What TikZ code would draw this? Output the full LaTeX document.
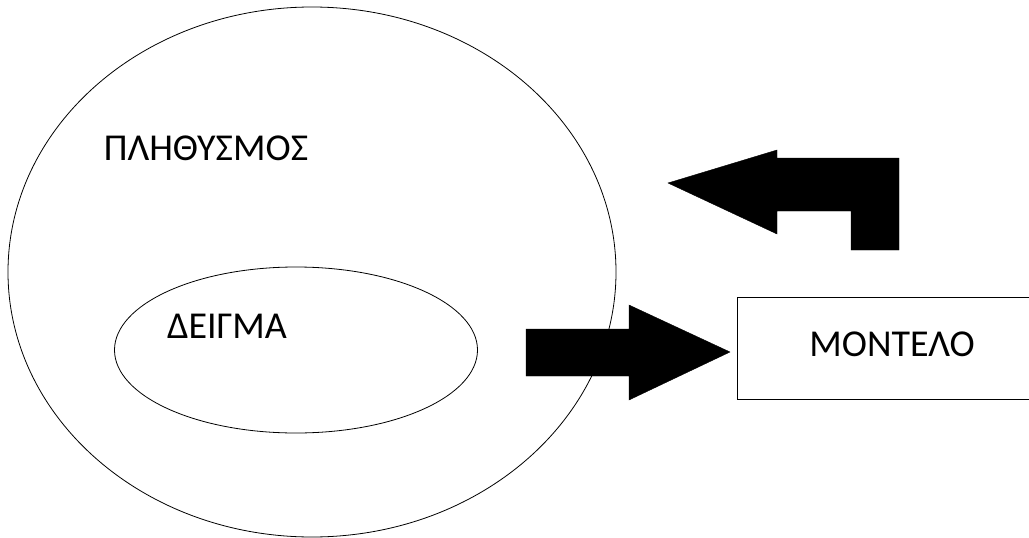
\documentclass[tikz,border=0pt]{standalone}
\usepackage{fontspec}
\setmainfont{Carlito}
\usetikzlibrary{shapes.geometric}

\begin{document}
\begin{tikzpicture}[
    x=1pt,y=-1pt,
    label/.style={font={\fontsize{38}{44}\selectfont}},
    set/.style={draw,ellipse,line width=0.8pt,inner sep=0pt},
    bigarrow/.style={fill=black,draw=black,line width=0.4pt},
    ]
    \useasboundingbox (0,0) rectangle (1029,538);

    % population and sample
    \node[set,minimum width=608pt,minimum height=530pt] (pop) at (312,272) {};
    \node[set,minimum width=363pt,minimum height=166pt] (sample) at (296,350) {};
    \node[label] (poptext) at (206,148) {ΠΛΗΘΥΣΜΟΣ};
    \node[label] (sampletext) at (227,326) {ΔΕΙΓΜΑ};

    % model
    \draw[line width=0.8pt] (737,297) rectangle (1032,399);
    \node[label] (model) at (892,344) {ΜΟΝΤΕΛΟ};

    % arrow to the model
    \fill[bigarrow] (526,329) -- (629,329) -- (629,305) -- (730,352)
        -- (629,400) -- (629,376) -- (526,376) -- cycle;

    % bent arrow back
    \fill[bigarrow] (668,183) -- (777,150) -- (777,158) -- (899,158)
        -- (899,250) -- (851,250) -- (851,211) -- (777,211) -- (777,234) -- cycle;
\end{tikzpicture}
\end{document}
